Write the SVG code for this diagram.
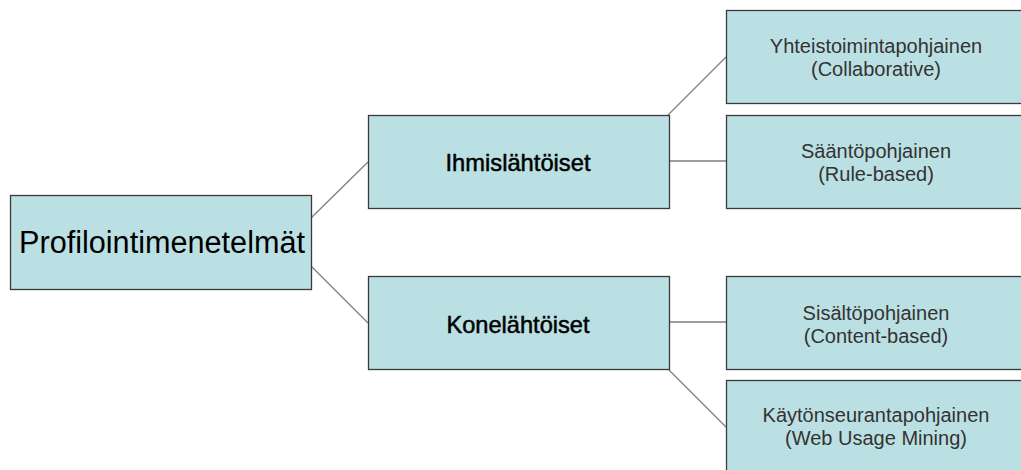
<svg xmlns="http://www.w3.org/2000/svg" width="1021" height="470" viewBox="0 0 1021 470">
<style>
.box{fill:#BBE0E3;stroke:#3a3a3a;stroke-width:1.3}
.conn line{stroke:#7f7f7f;stroke-width:1.3}
.t{font-family:"Liberation Sans",Arial,sans-serif;text-anchor:middle}
.root{font-size:31px;fill:#000}
.mid{font-size:24px;fill:#000;stroke:#000;stroke-width:0.5}
.leaf{font-size:20px;fill:#333}
</style>
<rect width="1021" height="470" fill="#fff"/>
<g class="conn" id="connectors">
<line x1="311" y1="218" x2="368" y2="162"/>
<line x1="311" y1="266" x2="368" y2="323"/>
<line x1="668" y1="115" x2="726" y2="57"/>
<line x1="669" y1="161" x2="726" y2="161"/>
<line x1="669" y1="322" x2="726" y2="322"/>
<line x1="668" y1="369" x2="726" y2="427"/>
</g>
<g id="root">
<rect class="box" x="10.5" y="195.5" width="301" height="94"/>
<text class="t root" x="162" y="253" textLength="286" lengthAdjust="spacingAndGlyphs">Profilointimenetelmät</text>
</g>
<g id="ihmis">
<rect class="box" x="368.5" y="115.5" width="301" height="93"/>
<text class="t mid" x="518" y="171" textLength="145" lengthAdjust="spacingAndGlyphs">Ihmislähtöiset</text>
</g>
<g id="kone">
<rect class="box" x="368.5" y="276.5" width="301" height="93"/>
<text class="t mid" x="518" y="333" textLength="143" lengthAdjust="spacingAndGlyphs">Konelähtöiset</text>
</g>
<g id="yhteis">
<rect class="box" x="726.5" y="10.5" width="300" height="93"/>
<text class="t leaf" x="876" y="53">Yhteistoimintapohjainen</text>
<text class="t leaf" x="876" y="76">(Collaborative)</text>
</g>
<g id="saanto">
<rect class="box" x="726.5" y="115.5" width="300" height="93"/>
<text class="t leaf" x="876" y="158">Sääntöpohjainen</text>
<text class="t leaf" x="876" y="181">(Rule-based)</text>
</g>
<g id="sisalto">
<rect class="box" x="726.5" y="276.5" width="300" height="93"/>
<text class="t leaf" x="876" y="320">Sisältöpohjainen</text>
<text class="t leaf" x="876" y="343">(Content-based)</text>
</g>
<g id="kaytto">
<rect class="box" x="726.5" y="380.5" width="300" height="93"/>
<text class="t leaf" x="876" y="422">Käytönseurantapohjainen</text>
<text class="t leaf" x="876" y="445">(Web Usage Mining)</text>
</g>
</svg>
